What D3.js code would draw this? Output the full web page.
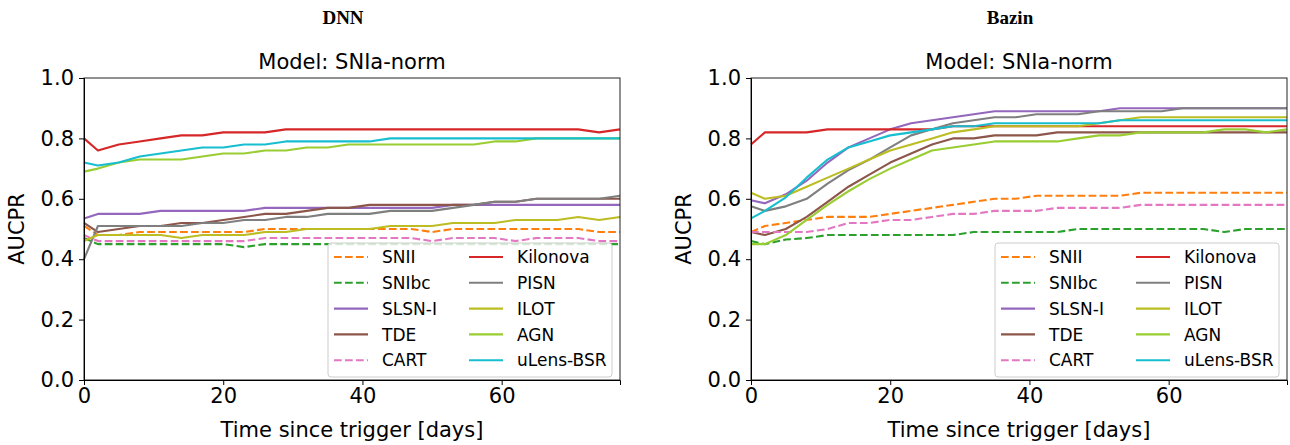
<!DOCTYPE html>
<html><head><meta charset="utf-8">
<script src="https://cdn.jsdelivr.net/npm/d3@7"></script>
<style>body{margin:0;background:#fff}svg{display:block}text{font-family:"DejaVu Sans",sans-serif}</style>
</head><body><svg id="c" width="1290" height="445"></svg>
<script>
const days = [0,2,5,8,11,14,17,20,23,26,29,32,35,38,41,44,47,50,53,56,59,62,65,68,71,74,77];
const classes = ["SNII","SNIbc","SLSN-I","TDE","CART","Kilonova","PISN","ILOT","AGN","uLens-BSR"];
const colors = ["#ff7f0e","#2ca02c","#9467bd","#8c564b","#e377c2","#d62728","#7f7f7f","#bcbd22","#9acd32","#17becf"];
const dashed = [true,true,false,false,true,false,false,false,false,false];
const panelTitles = ["DNN","Bazin"];
const modelTitle = "Model: SNIa-norm";
const yTicks = [0,0.2,0.4,0.6,0.8,1.0];
const xTicks = [0,20,40,60];

// DNN panel
const dnnSNII   = [0.51,0.48,0.48,0.49,0.49,0.49,0.49,0.49,0.49,0.50,0.50,0.50,0.50,0.50,0.50,0.50,0.50,0.49,0.50,0.50,0.50,0.50,0.50,0.50,0.50,0.49,0.49];
const dnnSNIbc  = [0.47,0.45,0.45,0.45,0.45,0.45,0.45,0.45,0.44,0.45,0.45,0.45,0.45,0.45,0.45,0.45,0.45,0.45,0.45,0.45,0.45,0.45,0.45,0.45,0.45,0.45,0.45];
const dnnSLSN   = [0.535,0.55,0.55,0.55,0.56,0.56,0.56,0.56,0.56,0.57,0.57,0.57,0.57,0.57,0.57,0.57,0.57,0.57,0.58,0.58,0.58,0.58,0.58,0.58,0.58,0.58,0.58];
const dnnTDE    = [0.52,0.49,0.50,0.51,0.51,0.52,0.52,0.53,0.54,0.55,0.55,0.56,0.57,0.57,0.58,0.58,0.58,0.58,0.58,0.58,0.59,0.59,0.60,0.60,0.60,0.60,0.60];
const dnnCART   = [0.48,0.46,0.46,0.46,0.46,0.46,0.46,0.46,0.46,0.47,0.47,0.47,0.47,0.47,0.47,0.47,0.47,0.46,0.47,0.47,0.47,0.46,0.47,0.47,0.47,0.46,0.46];
const dnnKN     = [0.80,0.76,0.78,0.79,0.80,0.81,0.81,0.82,0.82,0.82,0.83,0.83,0.83,0.83,0.83,0.83,0.83,0.83,0.83,0.83,0.83,0.83,0.83,0.83,0.83,0.82,0.83];
const dnnPISN   = [0.40,0.51,0.51,0.51,0.51,0.51,0.52,0.52,0.53,0.53,0.54,0.54,0.55,0.55,0.55,0.56,0.56,0.56,0.57,0.58,0.59,0.59,0.60,0.60,0.60,0.60,0.61];
const dnnILOT   = [0.46,0.48,0.48,0.48,0.48,0.47,0.48,0.48,0.48,0.49,0.49,0.50,0.50,0.50,0.50,0.51,0.51,0.51,0.52,0.52,0.52,0.53,0.53,0.53,0.54,0.53,0.54];
const dnnAGN    = [0.69,0.70,0.72,0.73,0.73,0.73,0.74,0.75,0.75,0.76,0.76,0.77,0.77,0.78,0.78,0.78,0.78,0.78,0.78,0.78,0.79,0.79,0.80,0.80,0.80,0.80,0.80];
const dnnULens  = [0.72,0.71,0.72,0.74,0.75,0.76,0.77,0.77,0.78,0.78,0.79,0.79,0.79,0.79,0.79,0.80,0.80,0.80,0.80,0.80,0.80,0.80,0.80,0.80,0.80,0.80,0.80];

// Bazin panel
const bazSNII   = [0.49,0.51,0.52,0.53,0.54,0.54,0.54,0.55,0.56,0.57,0.58,0.59,0.60,0.60,0.61,0.61,0.61,0.61,0.61,0.62,0.62,0.62,0.62,0.62,0.62,0.62,0.62];
const bazSNIbc  = [0.46,0.45,0.465,0.47,0.48,0.48,0.48,0.48,0.48,0.48,0.48,0.49,0.49,0.49,0.49,0.49,0.50,0.50,0.50,0.50,0.50,0.50,0.50,0.49,0.50,0.50,0.50];
const bazSLSN   = [0.595,0.585,0.615,0.66,0.72,0.77,0.80,0.83,0.85,0.86,0.87,0.88,0.89,0.89,0.89,0.89,0.89,0.89,0.90,0.90,0.90,0.90,0.90,0.90,0.90,0.90,0.90];
const bazTDE    = [0.49,0.48,0.50,0.54,0.59,0.64,0.68,0.72,0.75,0.78,0.80,0.80,0.81,0.81,0.81,0.82,0.82,0.82,0.82,0.82,0.82,0.82,0.82,0.82,0.82,0.82,0.82];
const bazCART   = [0.49,0.49,0.49,0.49,0.50,0.52,0.52,0.53,0.53,0.54,0.55,0.55,0.56,0.56,0.56,0.57,0.57,0.57,0.57,0.58,0.58,0.58,0.58,0.58,0.58,0.58,0.58];
const bazKN     = [0.78,0.82,0.82,0.82,0.83,0.83,0.83,0.83,0.83,0.83,0.84,0.84,0.84,0.84,0.84,0.84,0.84,0.84,0.84,0.84,0.84,0.84,0.84,0.84,0.84,0.84,0.84];
const bazPISN   = [0.575,0.56,0.575,0.60,0.65,0.695,0.73,0.77,0.81,0.83,0.85,0.86,0.87,0.87,0.88,0.88,0.88,0.89,0.89,0.89,0.89,0.90,0.90,0.90,0.90,0.90,0.90];
const bazILOT   = [0.62,0.60,0.61,0.64,0.67,0.70,0.73,0.76,0.78,0.80,0.82,0.83,0.84,0.84,0.84,0.84,0.84,0.85,0.86,0.87,0.87,0.87,0.87,0.87,0.87,0.87,0.87];
const bazAGN    = [0.45,0.45,0.48,0.53,0.58,0.625,0.665,0.70,0.73,0.76,0.77,0.78,0.79,0.79,0.79,0.79,0.80,0.81,0.81,0.82,0.82,0.82,0.82,0.83,0.83,0.82,0.83];
const bazULens  = [0.535,0.56,0.605,0.67,0.73,0.77,0.79,0.81,0.82,0.83,0.84,0.84,0.85,0.85,0.85,0.85,0.85,0.85,0.86,0.86,0.86,0.86,0.86,0.86,0.86,0.86,0.86];

const panels = [
  {title: panelTitles[0], series: [dnnSNII,dnnSNIbc,dnnSLSN,dnnTDE,dnnCART,dnnKN,dnnPISN,dnnILOT,dnnAGN,dnnULens]},
  {title: panelTitles[1], series: [bazSNII,bazSNIbc,bazSLSN,bazTDE,bazCART,bazKN,bazPISN,bazILOT,bazAGN,bazULens]}
];

const svg = d3.select("#c");
const lefts = [84, 751];
const W = 536, plotTop = 78, plotBottom = 380;
const FS = 21;

panels.forEach((p, pi) => {
  const ox = lefts[pi];
  const x = d3.scaleLinear().domain([0,77]).range([ox, ox+W]);
  const y = d3.scaleLinear().domain([0,1]).range([plotBottom, plotTop]);
  const g = svg.append("g");

  g.append("text").attr("x", ox + W/2 - 9).attr("y", 24).attr("text-anchor","middle")
    .style("font-family","'Liberation Serif',serif").style("font-weight","bold").style("font-size","19px")
    .text(p.title);
  g.append("text").attr("x", ox + W/2).attr("y", 69).attr("text-anchor","middle")
    .style("font-size", FS+"px").text(modelTitle);

  const line = d3.line().x((d,i)=>x(days[i])).y(d=>y(d));
  p.series.forEach((s, si) => {
    g.append("path").datum(s).attr("d", line).attr("fill","none")
      .attr("stroke", colors[si]).attr("stroke-width", 2.1)
      .attr("stroke-dasharray", dashed[si] ? "7.7,3.3" : null)
      .attr("stroke-linejoin","round");
  });

  g.append("rect").attr("x", ox).attr("y", plotTop).attr("width", W).attr("height", plotBottom-plotTop)
    .attr("fill","none").attr("stroke","#222").attr("stroke-width",1);

  const ya = d3.axisLeft(y).tickValues(yTicks).tickFormat(d3.format(".1f")).tickSize(5).tickPadding(5);
  const ga = svg.append("g").attr("transform",`translate(${ox},0)`).call(ya);
  const xa = d3.axisBottom(x).tickValues(xTicks).tickFormat(d3.format("d")).tickSize(5).tickPadding(3);
  const gx = svg.append("g").attr("transform",`translate(0,${plotBottom})`).call(xa);
  [ga,gx].forEach(a => {
    a.select(".domain").attr("stroke","#000");
    a.selectAll(".tick line").attr("stroke","#000");
    a.selectAll(".tick text").style("font-size",FS+"px").style("font-family","'DejaVu Sans',sans-serif").attr("fill","#000");
  });

  g.append("text").attr("x", ox + W/2).attr("y", 437).attr("text-anchor","middle")
    .style("font-size", FS+"px").text("Time since trigger [days]");
  g.append("text").attr("transform",`translate(${ox-60},${(plotTop+plotBottom)/2}) rotate(-90)`)
    .attr("text-anchor","middle").style("font-size", FS+"px").text("AUCPR");

  const lx = ox + W - 8 - 284, ly = 243, lw = 284, lh = 134;
  const lg = svg.append("g");
  lg.append("rect").attr("x", lx).attr("y", ly).attr("width", lw).attr("height", lh).attr("rx", 3)
    .attr("fill","#fff").attr("fill-opacity",0.8).attr("stroke","#ccc").attr("stroke-width",1);
  classes.forEach((c, ci) => {
    const col = Math.floor(ci/5), row = ci%5;
    const hx = lx + 6 + col*135, hy = ly + 14 + row*25.8;
    lg.append("line").attr("x1", hx).attr("x2", hx+34).attr("y1", hy).attr("y2", hy)
      .attr("stroke", colors[ci]).attr("stroke-width", 2.1)
      .attr("stroke-dasharray", dashed[ci] ? "7.7,3.3" : null);
    lg.append("text").attr("x", hx+48).attr("y", hy).attr("dy","0.36em")
      .style("font-size","17px").text(c);
  });
});
</script></body></html>
